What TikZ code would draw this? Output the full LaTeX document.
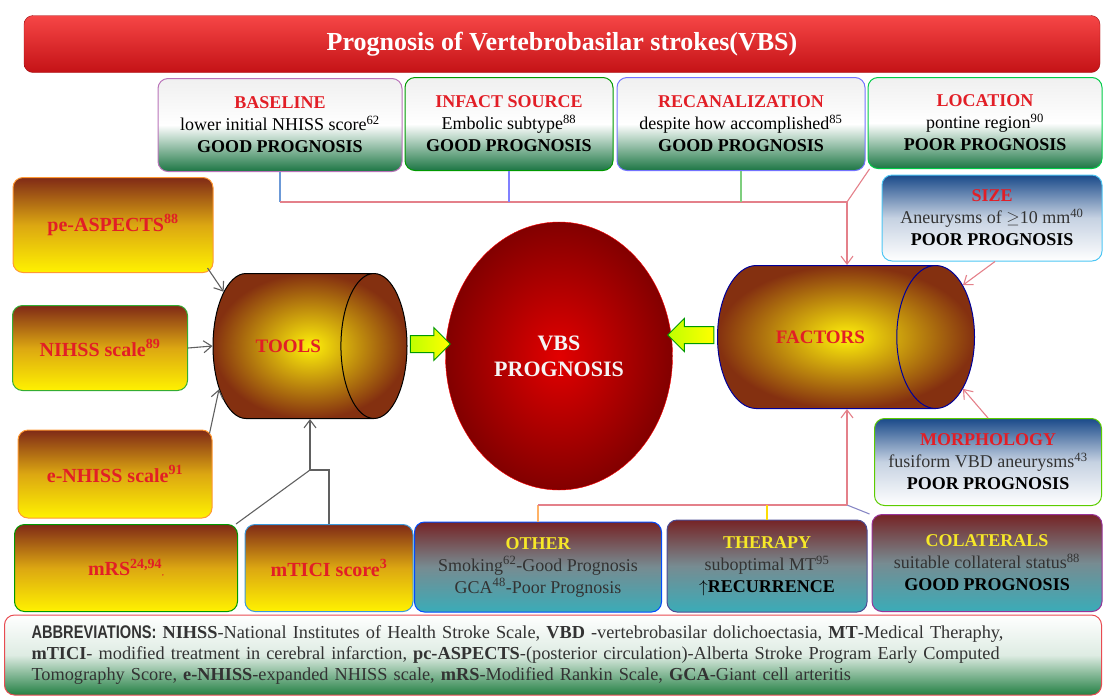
\documentclass[tikz,border=0pt]{standalone}
\usepackage{fontspec}
\setmainfont{Liberation Serif}
\newfontfamily\abbrsans{Liberation Sans}
\usetikzlibrary{shapes.geometric,shapes.arrows,arrows.meta,calc}
\definecolor{headred}{RGB}{226,30,38}
\definecolor{titletop}{RGB}{246,70,70}
\definecolor{titlebot}{RGB}{196,18,22}
\definecolor{topgreen}{RGB}{28,118,68}
\definecolor{lbrown}{RGB}{128,42,22}
\definecolor{lorange}{RGB}{205,135,25}
\definecolor{lyellow}{RGB}{255,242,0}
\definecolor{botbrown}{RGB}{118,36,38}
\definecolor{botteal}{RGB}{58,172,184}
\definecolor{sizeblue}{RGB}{26,74,138}
\definecolor{hdyellow}{RGB}{246,232,40}
\definecolor{abbrgreen}{RGB}{36,128,68}
\definecolor{cylbrown}{RGB}{132,48,16}
\definecolor{cylyellow}{RGB}{255,240,10}
\definecolor{vbsred}{RGB}{226,0,0}
\definecolor{vbsdark}{RGB}{130,0,0}
\definecolor{linkgray}{RGB}{96,96,96}
\definecolor{linkpink}{RGB}{228,128,138}

\begin{document}
\begin{tikzpicture}[x=1pt,y=-1pt,
titlebar/.style={draw=titlebot!80!black, rounded corners=9pt, top color=titletop,
bottom color=titlebot, text=white, minimum width=1076pt, minimum height=57pt,
font=\bfseries\fontsize{26}{28}\selectfont},
topbox/.style={rounded corners=10pt, line width=1pt, top color=gray!12,
bottom color=topgreen, middle color=white, align=center, minimum height=93pt,
font=\fontsize{18}{22}\selectfont, inner sep=2pt},
leftbox/.style={rounded corners=10pt, line width=1pt, top color=lbrown,
bottom color=lyellow, middle color=lorange!70!lyellow, text=headred,
font=\bfseries\fontsize{20}{22}\selectfont},
botbox/.style={rounded corners=10pt, line width=1pt, top color=botbrown,
bottom color=botteal, middle color=botteal!55!botbrown!80!white, align=center,
text=black!80, font=\fontsize{18}{22}\selectfont, inner sep=2pt},
bluebox/.style={rounded corners=10pt, line width=1pt, top color=sizeblue,
bottom color=white, middle color=sizeblue!25!white, align=center,
text=black!80, font=\fontsize{18}{22}\selectfont, inner sep=2pt},
abbrbox/.style={draw=headred!80, rounded corners=10pt, line width=1pt, top color=white,
bottom color=abbrgreen, middle color=white!85!abbrgreen, minimum width=1097pt,
minimum height=80pt},
cyl/.style={cylinder, shape border rotate=0, shape aspect=3.4, anchor=shape center,
line width=1pt, inner color=cylyellow, outer color=cylbrown, text=headred,
font=\bfseries\fontsize{19}{20}\selectfont},
vbs/.style={ellipse, draw=red, inner color=vbsred, outer color=vbsdark,
minimum width=227pt, minimum height=268pt, align=center, text=white!92!gray,
font=\bfseries\fontsize{22}{26}\selectfont},
fatarrow/.style={single arrow, draw=green!60!black, line width=1pt,
left color=yellow!75!green, right color=yellow, minimum height=40pt,
inner sep=8pt, single arrow head extend=8pt},
toolline/.style={draw=linkgray, line width=1.1pt},
toolarr/.style={toolline, -{Straight Barb[length=8pt,width=12pt]}},
busline/.style={draw=linkpink, line width=1.1pt},
factarr/.style={busline, -{Straight Barb[length=8pt,width=12pt]}}
]
\useasboundingbox (0,0) rectangle (1105,697);

\node[titlebar] (title) at (562,44) {Prognosis of Vertebrobasilar strokes(VBS)};

% top row
\node[topbox, draw=violet!55, minimum width=244pt] (base) at (280,125)
{\textcolor{headred}{\bfseries BASELINE}\\lower initial NHISS score\textsuperscript{62}\\\textbf{GOOD PROGNOSIS}};
\node[topbox, draw=green!60!black, minimum width=208pt] (infact) at (509,124)
{\textcolor{headred}{\bfseries INFACT SOURCE}\\Embolic subtype\textsuperscript{88}\\\textbf{GOOD PROGNOSIS}};
\node[topbox, draw=blue!55, minimum width=248pt] (recan) at (741,124)
{\textcolor{headred}{\bfseries RECANALIZATION}\\despite how accomplished\textsuperscript{85}\\\textbf{GOOD PROGNOSIS}};
\node[topbox, draw=green!65!cyan!80!black, minimum width=234pt, minimum height=91pt] (loc) at (985,123)
{\textcolor{headred}{\bfseries LOCATION}\\pontine region\textsuperscript{90}\\\textbf{POOR PROGNOSIS}};

% tools side
\node[leftbox, draw=orange!80, minimum width=200pt, minimum height=95pt] (pe) at (113,225) {pe-ASPECTS\textsuperscript{88}};
\node[leftbox, draw=green!60!black!80, minimum width=175pt, minimum height=85pt] (nihss) at (100,348) {NIHSS scale\textsuperscript{89}};
\node[leftbox, draw=orange!80, minimum width=194pt, minimum height=88pt] (enihss) at (115,474) {e-NHISS scale\textsuperscript{91}};
\node[leftbox, draw=green!60!black, minimum width=223pt, minimum height=87pt] (mrs) at (126,568) {mRS\textsuperscript{24,94}{\scriptsize,}};
\node[leftbox, draw=cyan!70!blue!80, minimum width=168pt, minimum height=87pt] (mtici) at (329,568) {mTICI score\textsuperscript{3}};

\node[cyl, draw=black, minimum height=194pt, minimum width=145pt] (tools) at (310,346) {TOOLS};
\node[vbs] (vbsp) at (559,356) {VBS\\PROGNOSIS};
\node[cyl, draw=blue!60!black, shape aspect=4, minimum height=257pt, minimum width=143pt] (factors) at (846,337) {FACTORS};

\node[fatarrow] (toolsarr) at (426,344) {};
\node[fatarrow, shape border rotate=180, minimum height=46pt] (factarr) at (695,335) {};

% factors side
\node[bluebox, draw=cyan!70, minimum width=220pt, minimum height=86pt] (size) at (992,218)
{\textcolor{headred}{\bfseries SIZE}\\Aneurysms of $\geq$10 mm\textsuperscript{40}\\\textbf{\textcolor{black}{POOR PROGNOSIS}}};
\node[bluebox, draw=green!55!yellow!80!black, minimum width=227pt, minimum height=87pt] (morph) at (988,462)
{\textcolor{headred}{\bfseries MORPHOLOGY}\\fusiform VBD aneurysms\textsuperscript{43}\\\textbf{\textcolor{black}{POOR PROGNOSIS}}};

\node[botbox, draw=blue!70!cyan, minimum width=247pt, minimum height=90pt] (other) at (538,567)
{\textcolor{hdyellow}{\bfseries OTHER}\\Smoking\textsuperscript{62}-Good Prognosis\\GCA\textsuperscript{48}-Poor Prognosis};
\node[botbox, draw=blue!40!black!70, minimum width=200pt, minimum height=92pt] (therapy) at (767,566)
{\textcolor{hdyellow}{\bfseries THERAPY}\\suboptimal MT\textsuperscript{95}\\\textbf{\textcolor{black}{$\uparrow$RECURRENCE}}};
\node[botbox, draw=violet!80, minimum width=230pt, minimum height=97pt] (colat) at (987,563)
{\textcolor{hdyellow}{\bfseries COLATERALS}\\suitable collateral status\textsuperscript{88}\\\textbf{\textcolor{black}{GOOD PROGNOSIS}}};

\node[abbrbox] (abbr) at (553,655) {};
\node[anchor=west, text width=1070pt, align=left, font=\fontsize{18.3}{21}\selectfont, text=black!80] (abbrtext) at (28,655)
{\scalebox{0.8}[1]{\abbrsans\bfseries ABBREVIATIONS:} \textbf{NIHSS}-National Institutes of Health Stroke Scale, \textbf{VBD} -vertebrobasilar dolichoectasia, \textbf{MT}-Medical Theraphy,\\
\textbf{mTICI}- modified treatment in cerebral infarction, \textbf{pc-ASPECTS}-(posterior circulation)-Alberta Stroke Program Early Computed\\
Tomography Score, \textbf{e-NHISS}-expanded NHISS scale, \textbf{mRS}-Modified Rankin Scale, \textbf{GCA}-Giant cell arteritis};

% links into tools
\coordinate (tjoin) at (310,470);
\draw[toolarr] ([shift={(-6,-5)}]pe.south east) -- (tools.140);
\draw[toolarr] (nihss.east) -- (tools.west);
\draw[toolarr] ([shift={(-3,4)}]enihss.north east) -- (tools.212);
\draw[toolline] (mtici.north) |- (tjoin);
\draw[toolline] ([xshift=-2pt]mrs.north east) -- (tjoin);
\draw[toolarr] (tjoin) -- (tjoin |- tools.south);

% links into factors
\coordinate (tbus) at (847,202);
\coordinate (bbus) at (847,505);
\draw[draw=cyan!50!blue!60, line width=1.1pt] (base.south) -- (base.south |- tbus);
\draw[busline] (base.south |- tbus) -- (tbus);
\draw[draw=blue!50, line width=1.1pt] (infact.south) -- (infact.south |- tbus);
\draw[draw=green!45!gray!70, line width=1.1pt] (recan.south) -- (recan.south |- tbus);
\draw[busline] ([xshift=2pt]loc.south west) -- (tbus);
\draw[factarr] (tbus) -- (tbus |- factors.north);
\draw[draw=orange!60, line width=1.1pt] (other.north) -- (other.north |- bbus);
\draw[busline] (other.north |- bbus) -- (bbus);
\draw[draw=yellow!80!orange, line width=1.1pt] (therapy.north) -- (therapy.north |- bbus);
\draw[draw=blue!35!gray!70, line width=1.1pt] ([xshift=-2pt]colat.north west) -- (bbus);
\draw[factarr] (bbus) -- (bbus |- factors.south);
\draw[factarr] ([xshift=3pt]size.south) -- (factors.20);
\draw[factarr] (morph.north) -- (factors.-20);
\end{tikzpicture}
\end{document}
